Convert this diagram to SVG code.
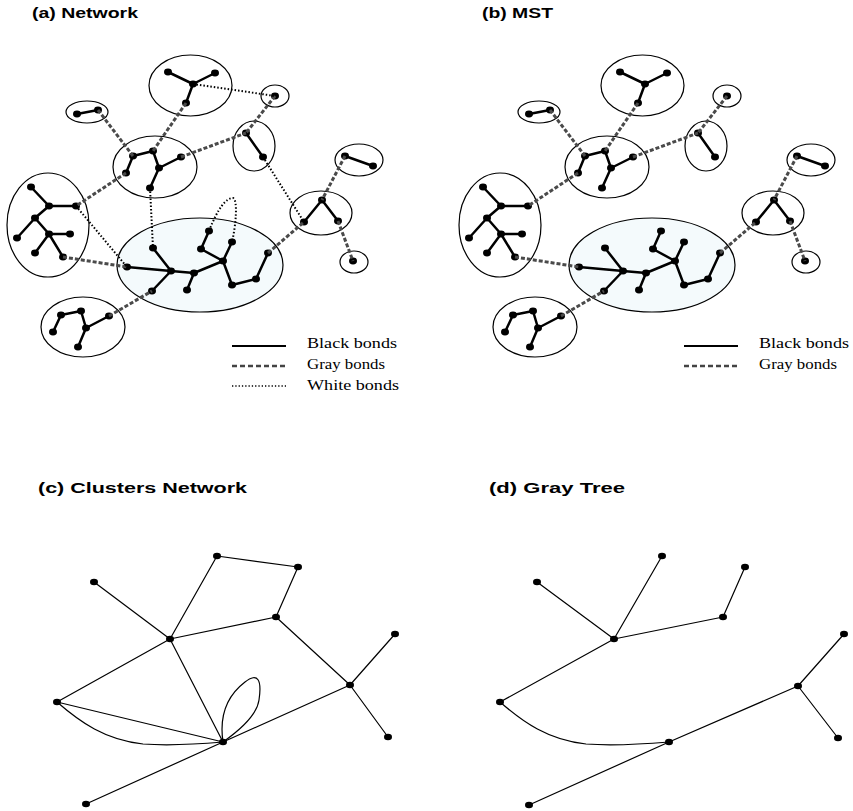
<svg xmlns="http://www.w3.org/2000/svg" width="853" height="811" viewBox="0 0 853 811">
<style>
.cl{fill:none;stroke:#000;stroke-width:1.2}
.big{fill:#f4fafc;stroke:#000;stroke-width:1.2}
.bb{fill:none;stroke:#000;stroke-width:2.5;stroke-linecap:round}
.gb{fill:none;stroke:#4a4a4a;stroke-width:3;stroke-dasharray:4 2}
.wb{fill:none;stroke:#000;stroke-width:2;stroke-dasharray:1.5 2}
.n{fill:#000}
.e{fill:none;stroke:#000;stroke-width:1.2}
.t{font-family:"Liberation Sans",Arial,sans-serif;font-weight:bold;font-size:14px;fill:#000}
.lg{font-family:"Liberation Serif","Times New Roman",serif;font-size:15px;fill:#000}
.lb{fill:none;stroke:#000;stroke-width:2}
.lgr{fill:none;stroke:#444;stroke-width:2.5;stroke-dasharray:5 3}
.lw{fill:none;stroke:#000;stroke-width:1.3;stroke-dasharray:1.3 2}
</style>

<!-- Titles -->
<text class="t" x="32" y="18" textLength="106" lengthAdjust="spacingAndGlyphs">(a) Network</text>
<text class="t" x="482" y="18" textLength="71" lengthAdjust="spacingAndGlyphs">(b) MST</text>
<text class="t" x="38" y="493" textLength="209" lengthAdjust="spacingAndGlyphs">(c) Clusters Network</text>
<text class="t" x="489" y="493" textLength="136" lengthAdjust="spacingAndGlyphs">(d) Gray Tree</text>

<!-- ===== Panel (a) ===== -->
<g id="panel-a">
  <g id="a-big">
    <ellipse class="big" cx="200" cy="265" rx="83" ry="47"/>
    <path class="bb" d="M127,267L171,271M171,271L153,248M171,271L194,273M171,271L152,291M194,273L187,290M194,273L223,261M223,261L201,249M201,249L209,231M223,261L232,242M223,261L232,285M232,285L256,279M256,279L268,253"/>
    <g class="n">
      <ellipse cx="127" cy="267" rx="4" ry="3.4"/><ellipse cx="171" cy="271" rx="4" ry="3.4"/><ellipse cx="153" cy="248" rx="4" ry="3.4"/><ellipse cx="194" cy="273" rx="4" ry="3.4"/><ellipse cx="152" cy="291" rx="4" ry="3.4"/><ellipse cx="187" cy="290" rx="4" ry="3.4"/><ellipse cx="223" cy="261" rx="4" ry="3.4"/><ellipse cx="201" cy="249" rx="4" ry="3.4"/><ellipse cx="209" cy="231" rx="4" ry="3.4"/><ellipse cx="232" cy="242" rx="4" ry="3.4"/><ellipse cx="232" cy="285" rx="4" ry="3.4"/><ellipse cx="256" cy="279" rx="4" ry="3.4"/><ellipse cx="268" cy="253" rx="4" ry="3.4"/>
    </g>
  </g>
  <g id="a-top">
    <ellipse class="cl" cx="190.5" cy="85.5" rx="41.5" ry="30.5"/>
    <path class="bb" d="M168,72L193,84M215,73L193,84M193,84L186,103"/>
    <g class="n"><ellipse cx="168" cy="72" rx="4" ry="3.4"/><ellipse cx="215" cy="73" rx="4" ry="3.4"/><ellipse cx="193" cy="84" rx="4" ry="3.4"/><ellipse cx="186" cy="103" rx="4" ry="3.4"/></g>
  </g>
  <g id="a-pair">
    <ellipse class="cl" cx="87" cy="112" rx="21" ry="11"/>
    <path class="bb" d="M77,114L98,110"/>
    <g class="n"><ellipse cx="77" cy="114" rx="4" ry="3.4"/><ellipse cx="98" cy="110" rx="4" ry="3.4"/></g>
  </g>
  <g id="a-mid">
    <ellipse class="cl" cx="155" cy="167" rx="42" ry="31"/>
    <path class="bb" d="M133,156L153,151M133,156L126,173M153,151L159,168M159,168L181,157M159,168L150,188"/>
    <g class="n"><ellipse cx="133" cy="156" rx="4" ry="3.4"/><ellipse cx="153" cy="151" rx="4" ry="3.4"/><ellipse cx="126" cy="173" rx="4" ry="3.4"/><ellipse cx="159" cy="168" rx="4" ry="3.4"/><ellipse cx="181" cy="157" rx="4" ry="3.4"/><ellipse cx="150" cy="188" rx="4" ry="3.4"/></g>
  </g>
  <g id="a-left">
    <ellipse class="cl" cx="48" cy="225" rx="41" ry="52"/>
    <path class="bb" d="M31,187L49,206M49,206L76,206M49,206L35,218M35,218L17,238M35,218L49,234M49,234L70,234M49,234L35,253M49,234L63,257"/>
    <g class="n"><ellipse cx="31" cy="187" rx="4" ry="3.4"/><ellipse cx="49" cy="206" rx="4" ry="3.4"/><ellipse cx="76" cy="206" rx="4" ry="3.4"/><ellipse cx="35" cy="218" rx="4" ry="3.4"/><ellipse cx="17" cy="238" rx="4" ry="3.4"/><ellipse cx="49" cy="234" rx="4" ry="3.4"/><ellipse cx="70" cy="234" rx="4" ry="3.4"/><ellipse cx="35" cy="253" rx="4" ry="3.4"/><ellipse cx="63" cy="257" rx="4" ry="3.4"/></g>
  </g>
  <g id="a-tiny1">
    <ellipse class="cl" cx="275" cy="96" rx="14" ry="11"/>
    <ellipse class="n" cx="275" cy="96" rx="4" ry="3.4"/>
  </g>
  <g id="a-two">
    <ellipse class="cl" cx="254" cy="146" rx="21" ry="25"/>
    <path class="bb" d="M246,133L263,157"/>
    <g class="n"><ellipse cx="246" cy="133" rx="4" ry="3.4"/><ellipse cx="263" cy="157" rx="4" ry="3.4"/></g>
  </g>
  <g id="a-right">
    <ellipse class="cl" cx="321" cy="213" rx="31" ry="22"/>
    <path class="bb" d="M322,200L304,222M322,200L338,221"/>
    <g class="n"><ellipse cx="322" cy="200" rx="4" ry="3.4"/><ellipse cx="304" cy="222" rx="4" ry="3.4"/><ellipse cx="338" cy="221" rx="4" ry="3.4"/></g>
  </g>
  <g id="a-pair2">
    <ellipse class="cl" cx="359" cy="160" rx="24" ry="16"/>
    <path class="bb" d="M345,156L373,166"/>
    <g class="n"><ellipse cx="345" cy="156" rx="4" ry="3.4"/><ellipse cx="373" cy="166" rx="4" ry="3.4"/></g>
  </g>
  <g id="a-tiny2">
    <ellipse class="cl" cx="354" cy="262" rx="14" ry="11"/>
    <ellipse class="n" cx="353" cy="261" rx="4" ry="3.4"/>
  </g>
  <g id="a-bl">
    <ellipse class="cl" cx="83" cy="327" rx="42" ry="30"/>
    <path class="bb" d="M61,315L81,311M61,315L53,332M81,311L86,328M86,328L109,316M86,328L78,347"/>
    <g class="n"><ellipse cx="61" cy="315" rx="4" ry="3.4"/><ellipse cx="81" cy="311" rx="4" ry="3.4"/><ellipse cx="53" cy="332" rx="4" ry="3.4"/><ellipse cx="86" cy="328" rx="4" ry="3.4"/><ellipse cx="109" cy="316" rx="4" ry="3.4"/><ellipse cx="78" cy="347" rx="4" ry="3.4"/></g>
  </g>
  <g id="a-connectors">
    <path class="gb" d="M98,110L133,156M186,103L153,151M126,173L76,206M181,157L246,133M275,96L246,133M345,156L322,200M338,221L353,261M268,253L304,222M63,257L127,267M109,316L152,291"/>
    <path class="wb" d="M193,84L275,96M76,206L127,267M150,188L153,248M263,157L304,222"/>
    <path class="wb" d="M209,231C218,208 226,198 233,198C238,200 236,225 232,242"/>
  </g>
  <g id="a-legend">
    <line class="lb" x1="232" y1="346" x2="286" y2="346"/>
    <line class="lgr" x1="232" y1="366" x2="286" y2="366"/>
    <line class="lw" x1="232" y1="386" x2="286" y2="386"/>
    <text class="lg" x="307" y="348" textLength="90" lengthAdjust="spacingAndGlyphs">Black bonds</text>
    <text class="lg" x="307" y="369" textLength="78" lengthAdjust="spacingAndGlyphs">Gray bonds</text>
    <text class="lg" x="307" y="390" textLength="92" lengthAdjust="spacingAndGlyphs">White bonds</text>
  </g>
</g>

<!-- ===== Panel (b) ===== -->
<g id="panel-b" transform="translate(452,0)">
  <g id="b-big">
    <ellipse class="big" cx="200" cy="265" rx="83" ry="47"/>
    <path class="bb" d="M127,267L171,271M171,271L153,248M171,271L194,273M171,271L152,291M194,273L187,290M194,273L223,261M223,261L201,249M201,249L209,231M223,261L232,242M223,261L232,285M232,285L256,279M256,279L268,253"/>
    <g class="n">
      <ellipse cx="127" cy="267" rx="4" ry="3.4"/><ellipse cx="171" cy="271" rx="4" ry="3.4"/><ellipse cx="153" cy="248" rx="4" ry="3.4"/><ellipse cx="194" cy="273" rx="4" ry="3.4"/><ellipse cx="152" cy="291" rx="4" ry="3.4"/><ellipse cx="187" cy="290" rx="4" ry="3.4"/><ellipse cx="223" cy="261" rx="4" ry="3.4"/><ellipse cx="201" cy="249" rx="4" ry="3.4"/><ellipse cx="209" cy="231" rx="4" ry="3.4"/><ellipse cx="232" cy="242" rx="4" ry="3.4"/><ellipse cx="232" cy="285" rx="4" ry="3.4"/><ellipse cx="256" cy="279" rx="4" ry="3.4"/><ellipse cx="268" cy="253" rx="4" ry="3.4"/>
    </g>
  </g>
  <g id="b-top">
    <ellipse class="cl" cx="190.5" cy="85.5" rx="41.5" ry="30.5"/>
    <path class="bb" d="M168,72L193,84M215,73L193,84M193,84L186,103"/>
    <g class="n"><ellipse cx="168" cy="72" rx="4" ry="3.4"/><ellipse cx="215" cy="73" rx="4" ry="3.4"/><ellipse cx="193" cy="84" rx="4" ry="3.4"/><ellipse cx="186" cy="103" rx="4" ry="3.4"/></g>
  </g>
  <g id="b-pair">
    <ellipse class="cl" cx="87" cy="112" rx="21" ry="11"/>
    <path class="bb" d="M77,114L98,110"/>
    <g class="n"><ellipse cx="77" cy="114" rx="4" ry="3.4"/><ellipse cx="98" cy="110" rx="4" ry="3.4"/></g>
  </g>
  <g id="b-mid">
    <ellipse class="cl" cx="155" cy="167" rx="42" ry="31"/>
    <path class="bb" d="M133,156L153,151M133,156L126,173M153,151L159,168M159,168L181,157M159,168L150,188"/>
    <g class="n"><ellipse cx="133" cy="156" rx="4" ry="3.4"/><ellipse cx="153" cy="151" rx="4" ry="3.4"/><ellipse cx="126" cy="173" rx="4" ry="3.4"/><ellipse cx="159" cy="168" rx="4" ry="3.4"/><ellipse cx="181" cy="157" rx="4" ry="3.4"/><ellipse cx="150" cy="188" rx="4" ry="3.4"/></g>
  </g>
  <g id="b-left">
    <ellipse class="cl" cx="48" cy="225" rx="41" ry="52"/>
    <path class="bb" d="M31,187L49,206M49,206L76,206M49,206L35,218M35,218L17,238M35,218L49,234M49,234L70,234M49,234L35,253M49,234L63,257"/>
    <g class="n"><ellipse cx="31" cy="187" rx="4" ry="3.4"/><ellipse cx="49" cy="206" rx="4" ry="3.4"/><ellipse cx="76" cy="206" rx="4" ry="3.4"/><ellipse cx="35" cy="218" rx="4" ry="3.4"/><ellipse cx="17" cy="238" rx="4" ry="3.4"/><ellipse cx="49" cy="234" rx="4" ry="3.4"/><ellipse cx="70" cy="234" rx="4" ry="3.4"/><ellipse cx="35" cy="253" rx="4" ry="3.4"/><ellipse cx="63" cy="257" rx="4" ry="3.4"/></g>
  </g>
  <g id="b-tiny1">
    <ellipse class="cl" cx="275" cy="96" rx="14" ry="11"/>
    <ellipse class="n" cx="275" cy="96" rx="4" ry="3.4"/>
  </g>
  <g id="b-two">
    <ellipse class="cl" cx="254" cy="146" rx="21" ry="25"/>
    <path class="bb" d="M246,133L263,157"/>
    <g class="n"><ellipse cx="246" cy="133" rx="4" ry="3.4"/><ellipse cx="263" cy="157" rx="4" ry="3.4"/></g>
  </g>
  <g id="b-right">
    <ellipse class="cl" cx="321" cy="213" rx="31" ry="22"/>
    <path class="bb" d="M322,200L304,222M322,200L338,221"/>
    <g class="n"><ellipse cx="322" cy="200" rx="4" ry="3.4"/><ellipse cx="304" cy="222" rx="4" ry="3.4"/><ellipse cx="338" cy="221" rx="4" ry="3.4"/></g>
  </g>
  <g id="b-pair2">
    <ellipse class="cl" cx="359" cy="160" rx="24" ry="16"/>
    <path class="bb" d="M345,156L373,166"/>
    <g class="n"><ellipse cx="345" cy="156" rx="4" ry="3.4"/><ellipse cx="373" cy="166" rx="4" ry="3.4"/></g>
  </g>
  <g id="b-tiny2">
    <ellipse class="cl" cx="354" cy="262" rx="14" ry="11"/>
    <ellipse class="n" cx="353" cy="261" rx="4" ry="3.4"/>
  </g>
  <g id="b-bl">
    <ellipse class="cl" cx="83" cy="327" rx="42" ry="30"/>
    <path class="bb" d="M61,315L81,311M61,315L53,332M81,311L86,328M86,328L109,316M86,328L78,347"/>
    <g class="n"><ellipse cx="61" cy="315" rx="4" ry="3.4"/><ellipse cx="81" cy="311" rx="4" ry="3.4"/><ellipse cx="53" cy="332" rx="4" ry="3.4"/><ellipse cx="86" cy="328" rx="4" ry="3.4"/><ellipse cx="109" cy="316" rx="4" ry="3.4"/><ellipse cx="78" cy="347" rx="4" ry="3.4"/></g>
  </g>
  <g id="b-connectors">
    <path class="gb" d="M98,110L133,156M186,103L153,151M126,173L76,206M181,157L246,133M275,96L246,133M345,156L322,200M338,221L353,261M268,253L304,222M63,257L127,267M109,316L152,291"/>
  </g>
  <g id="b-legend">
    <line class="lb" x1="232" y1="346" x2="286" y2="346"/>
    <line class="lgr" x1="232" y1="366" x2="286" y2="366"/>
    <text class="lg" x="307" y="348" textLength="90" lengthAdjust="spacingAndGlyphs">Black bonds</text>
    <text class="lg" x="307" y="369" textLength="78" lengthAdjust="spacingAndGlyphs">Gray bonds</text>
  </g>
</g>

<!-- ===== Panel (c) ===== -->
<g id="panel-c">
  <g id="c-connectors">
    <path class="e" d="M217,556L298,567M298,567L276,617M217,556L170,639M94,582L170,639M170,639L276,617M276,617L350,685M350,685L395,634M350,685L388,737M350,685L223,742M170,639L57,702M170,639L223,742M57,702L223,742M223,742L86,804"/>
    <path class="e" d="M57,702C80,722 105,740 143,744C170,746 200,744 223,742"/>
    <path class="e" d="M223,742C219,715 228,695 245,682C258,672 262,680 259,700C257,715 240,730 223,742"/>
  </g>
  <g id="c-n1"><ellipse class="n" cx="217" cy="556" rx="4" ry="3.2"/></g>
  <g id="c-n2"><ellipse class="n" cx="298" cy="567" rx="4" ry="3.2"/></g>
  <g id="c-n3"><ellipse class="n" cx="94" cy="582" rx="4" ry="3.2"/></g>
  <g id="c-n4"><ellipse class="n" cx="276" cy="617" rx="4" ry="3.2"/></g>
  <g id="c-n5"><ellipse class="n" cx="170" cy="639" rx="4" ry="3.2"/></g>
  <g id="c-n6"><ellipse class="n" cx="395" cy="634" rx="4" ry="3.2"/></g>
  <g id="c-n7"><ellipse class="n" cx="350" cy="685" rx="4" ry="3.2"/></g>
  <g id="c-n8"><ellipse class="n" cx="57" cy="702" rx="4" ry="3.2"/></g>
  <g id="c-n9"><ellipse class="n" cx="223" cy="742" rx="4" ry="3.2"/></g>
  <g id="c-n10"><ellipse class="n" cx="388" cy="737" rx="4" ry="3.2"/></g>
  <g id="c-n11"><ellipse class="n" cx="86" cy="804" rx="4" ry="3.2"/></g>
</g>

<!-- ===== Panel (d) ===== -->
<g id="panel-d">
  <g id="d-connectors">
    <path class="e" d="M662,556L614,639M537,582L614,639M614,639L723,617M723,617L745,567M614,639L500,702M669,742L798,686M798,686L844,634M798,686L838,738M669,742L529,805"/>
    <path class="e" d="M500,702C523,722 548,740 586,744C613,746 645,744 669,742"/>
  </g>
  <g id="d-n1"><ellipse class="n" cx="662" cy="556" rx="4" ry="3.2"/></g>
  <g id="d-n2"><ellipse class="n" cx="745" cy="567" rx="4" ry="3.2"/></g>
  <g id="d-n3"><ellipse class="n" cx="537" cy="582" rx="4" ry="3.2"/></g>
  <g id="d-n4"><ellipse class="n" cx="723" cy="617" rx="4" ry="3.2"/></g>
  <g id="d-n5"><ellipse class="n" cx="614" cy="639" rx="4" ry="3.2"/></g>
  <g id="d-n6"><ellipse class="n" cx="844" cy="634" rx="4" ry="3.2"/></g>
  <g id="d-n7"><ellipse class="n" cx="798" cy="686" rx="4" ry="3.2"/></g>
  <g id="d-n8"><ellipse class="n" cx="500" cy="702" rx="4" ry="3.2"/></g>
  <g id="d-n9"><ellipse class="n" cx="669" cy="742" rx="4" ry="3.2"/></g>
  <g id="d-n10"><ellipse class="n" cx="838" cy="738" rx="4" ry="3.2"/></g>
  <g id="d-n11"><ellipse class="n" cx="529" cy="805" rx="4" ry="3.2"/></g>
</g>
</svg>
